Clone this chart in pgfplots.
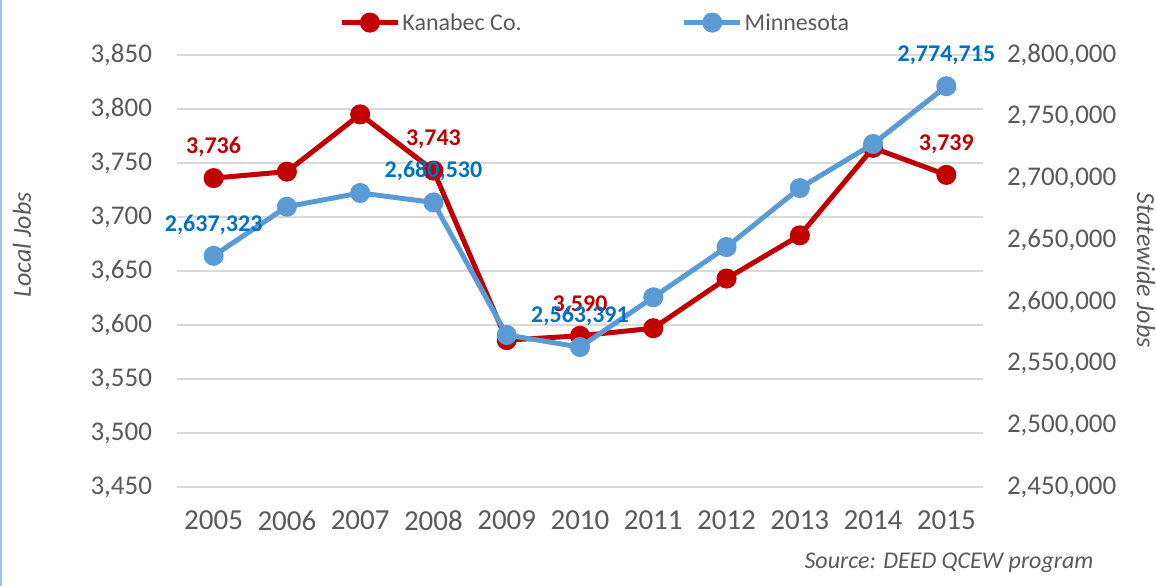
\documentclass[border=0pt]{standalone}
\usepackage{pgfplots}
\pgfplotsset{compat=1.18}
\usepackage{fontspec}
\setmainfont{Carlito}
\definecolor{kred}{HTML}{C00000}
\definecolor{mblue}{HTML}{5B9BD5}
\definecolor{mlab}{HTML}{0070C0}
\definecolor{txt}{HTML}{595959}
\definecolor{grd}{HTML}{D9D9D9}

\tikzset{
  lab/.style={font=\bfseries\fontsize{24}{27}\selectfont, text=#1, anchor=south, inner sep=0pt, yshift=19pt},
  series/.style={color=#1, line width=5pt, mark=*, mark size=7.5pt, mark options={solid}},
}
\pgfplotsset{
  base/.style={
    scale only axis, width=806pt, height=432pt,
    at={(177pt,99pt)}, anchor=south west,
    xmin=2004.5, xmax=2015.5, clip=false,
    axis line style={draw=none}, major tick length=0pt,
    tick label style={font=\fontsize{27}{31}\selectfont, text=txt, inner sep=0pt, outer sep=0pt},
    /pgf/number format/assume math mode=true,
    /pgf/number format/fixed,
    /pgf/number format/precision=0,
    /pgf/number format/1000 sep={,},
    point meta=explicit symbolic,
    nodes near coords,
  },
}

\begin{document}
\begin{tikzpicture}[x=1pt,y=1pt]
\useasboundingbox (0,0) rectangle (1156,586);
\draw[mblue!60, line width=2pt] (1,0) -- (1,586);

\begin{axis}[base,
  ymin=3450, ymax=3850, ytick={3450,3500,...,3850},
  ymajorgrids, grid style={grd, line width=1.5pt},
  xtick={2005,...,2015},
  xticklabel style={/pgf/number format/1000 sep={}, font=\fontsize{29}{33}\selectfont, yshift=-24pt},
  yticklabel style={xshift=-25pt},
  every node near coord/.style={lab=kred},
]
\addplot[series=kred] coordinates {
  (2005,3736) [3,736]
  (2006,3742) []
  (2007,3795) []
  (2008,3743) [3,743]
  (2009,3586) []
  (2010,3590) [3,590]
  (2011,3597) []
  (2012,3643) []
  (2013,3683) []
  (2014,3764) []
  (2015,3739) [3,739]
};
\end{axis}

\begin{axis}[base,
  ymin=2450000, ymax=2800000, ytick={2450000,2500000,...,2800000},
  scaled y ticks=false, yticklabel pos=right,
  xtick=\empty,
  yticklabel style={xshift=24pt},
  every node near coord/.style={lab=mlab},
  legend columns=2,
  legend style={draw=none, fill=none, at={(0.519,1.075)}, anchor=center,
    font=\fontsize{24}{28}\selectfont, text=txt, nodes={inner sep=2pt},
    /tikz/every even column/.append style={column sep=158pt}},
  legend image code/.code={
    \draw[line width=5pt] (0pt,0pt) -- (56pt,0pt);
    \fill (28pt,0pt) circle (7.5pt);
  },
]
\addlegendimage{series=kred}
\addlegendentry{Kanabec Co.}
\addplot[series=mblue] coordinates {
  (2005,2637323) [2,637,323]
  (2006,2677100) []
  (2007,2688200) []
  (2008,2680530) [2,680,530]
  (2009,2573150) []
  (2010,2563391) [2,563,391]
  (2011,2603700) []
  (2012,2644400) []
  (2013,2692200) []
  (2014,2727900) []
  (2015,2774715) [2,774,715]
};
\addlegendentry{Minnesota}
\end{axis}

\node[rotate=90, font=\itshape\fontsize{26}{30}\selectfont, text=txt] at (22,341) {Local Jobs};
\node[rotate=-90, font=\itshape\fontsize{26}{30}\selectfont, text=txt] at (1146,316) {Statewide Jobs};
\node[anchor=east, font=\itshape\fontsize{24}{28}\selectfont, text=txt] at (1097,23) {Source: DEED QCEW program};
\end{tikzpicture}
\end{document}
